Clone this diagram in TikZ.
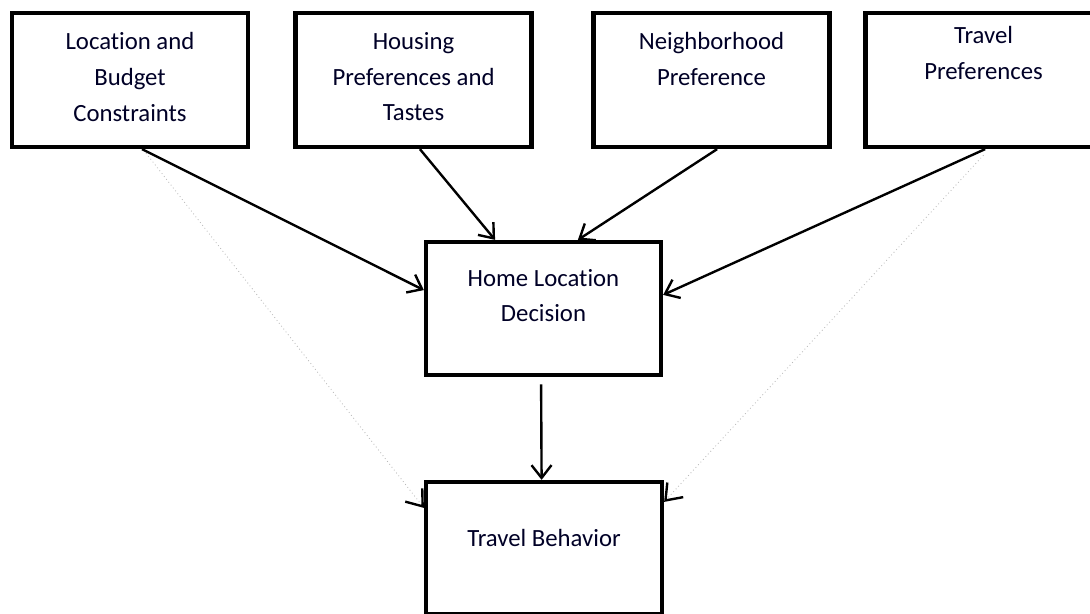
\documentclass[tikz,border=0pt]{standalone}
\usepackage{fontspec}
\setmainfont{Carlito}[Ligatures=NoCommon]
\usetikzlibrary{
		positioning,
		arrows.meta
	}
\tikzset{
		>={Straight Barb[length=3.2mm,width=5mm]}
	}

\begin{document}
\begin{tikzpicture}[x=0.025cm, y=-0.025cm,
				factor/.style={draw, line width=3pt, minimum width=5.9cm, minimum height=3.35cm},
				caption/.style={align=center, anchor=north, inner sep=0pt,
					font=\fontsize{17.6}{25.3}\selectfont, text=black!85!blue},
				link/.style={->, line width=1.7pt},
				indirect/.style={-{Straight Barb[length=3.6mm,width=5.4mm,color=black,line width=1.7pt]},
					line width=0.6pt, draw=gray!55, dotted}]
	\clip (0,0) rectangle (1090,613);
	% top row of factors
	\node[factor, label={[caption, yshift=-0.54cm]north:{Location and\\Budget\\Constraints}}] (budget) at (130,80) {};
	\node[factor, label={[caption, yshift=-0.54cm]north:{Housing\\Preferences and\\Tastes}}] (housing) at (413.5,80) {};
	\node[factor, label={[caption, yshift=-0.54cm]north:{Neighborhood\\Preference}}] (hood) at (711.5,80) {};
	\node[factor, label={[caption, yshift=-0.39cm]north:{Travel\\Preferences}}] (travelpref) at (983.5,80) {};
	% decision and outcome
	\node[factor, minimum width=5.875cm, minimum height=3.325cm,
		label={[caption, yshift=-0.73cm]north:{Home Location\\Decision}}] (home) at (543.5,308.5) {};
	\node[factor, minimum height=3.3cm,
		label={[caption, yshift=-1.23cm]north:{Travel Behavior}}] (behavior) at (544,548) {};
	% direct effects
	\draw[link] ([xshift=0.3cm]budget.south) -- ([yshift=0.46cm]home.west);
	\draw[link] ([xshift=0.16cm]housing.south) -- ([xshift=-1.21cm]home.north);
	\draw[link] ([xshift=0.14cm]hood.south) -- ([xshift=0.86cm]home.north);
	\draw[link] ([xshift=0.04cm]travelpref.south) -- ([yshift=0.34cm]home.east);
	\draw[link] ([xshift=-0.06cm, yshift=-0.18cm]home.south) -- ([xshift=-0.06cm]behavior.north);
	% indirect effects
	\draw[indirect] ([xshift=0.4cm, yshift=-0.1cm]budget.south) -- ([yshift=-0.7cm]behavior.north west);
	\draw[indirect] ([yshift=-0.15cm]travelpref.south) -- ([yshift=-0.55cm]behavior.north east);
\end{tikzpicture}
\end{document}
